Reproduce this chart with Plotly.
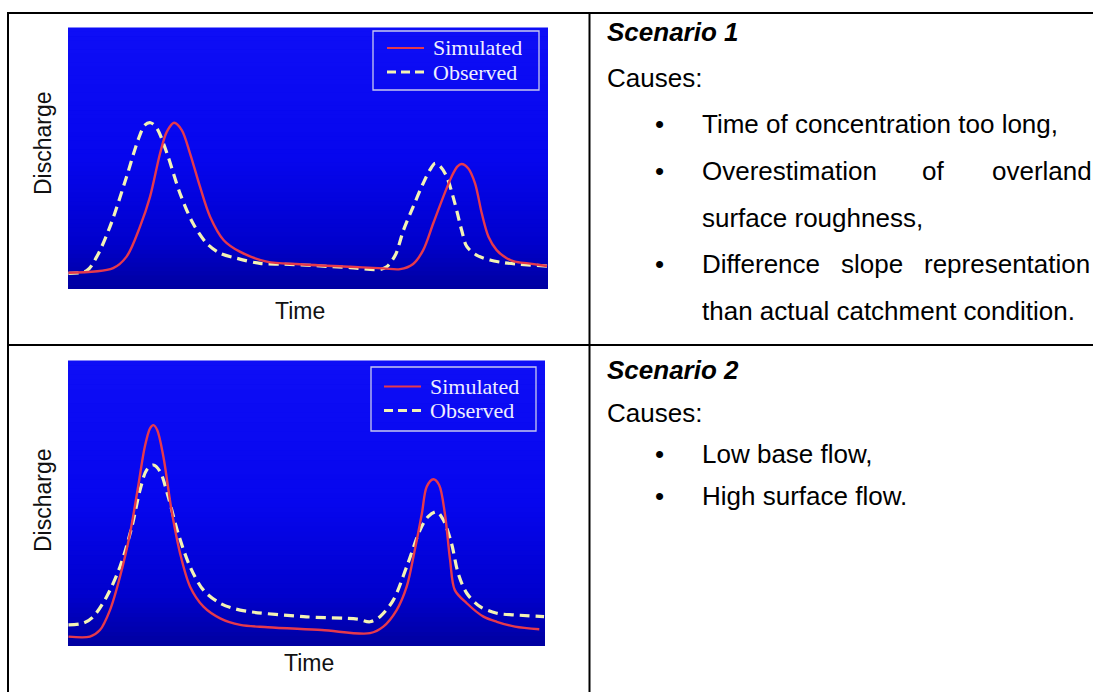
import plotly.graph_objects as go

W, H = 1093, 692

# ---- Scenario 1 hydrographs (time and discharge in relative units 0-100) ----
s1_sim_t = [0.1, 9.4, 12.2, 15.0, 17.1, 19.2, 20.6, 22.1, 23.7, 25.4, 27.5, 29.6, 32.4, 35.8,
            41.4, 48.3, 58.8, 65.7, 69.2, 71.9, 74.0, 76.1, 78.2, 79.9, 81.1, 82.0, 83.4,
            84.8, 86.2, 87.6, 89.3, 91.4, 93.1, 95.9, 99.8]
s1_sim_q = [6.2, 8.0, 12.4, 23.9, 35.4, 52.1, 60.3, 63.7, 60.9, 52.1, 39.2, 27.7, 18.8, 14.3,
            10.5, 9.5, 8.5, 7.9, 7.6, 9.6, 14.9, 25.2, 35.4, 43.0, 46.9, 47.9, 46.2,
            40.5, 29.0, 20.0, 14.9, 11.8, 10.5, 9.8, 8.8]

s1_obs_t = [0.1, 3.9, 6.0, 8.75, 12.2, 14.6, 16.0, 17.2, 18.5, 20.6, 23.3, 26.0, 28.9, 31.7,
            35.1, 40.0, 44.9, 51.8, 58.8, 65.0, 66.4, 68.2, 69.9, 71.9, 74.0, 75.4, 76.5,
            77.6, 78.9, 80.6, 82.0, 83.1, 85.1, 87.9, 90.7, 93.1, 99.8]
s1_obs_q = [6.0, 7.0, 12.4, 23.9, 43.0, 57.1, 62.8, 63.7, 61.6, 52.1, 36.8, 25.3, 17.5, 13.7,
            11.8, 9.8, 9.5, 8.9, 8.2, 7.5, 8.5, 13.0, 22.6, 31.5, 40.5, 45.6, 48.2,
            46.9, 43.0, 32.8, 22.6, 16.2, 13.0, 11.1, 10.1, 9.6, 8.8]

# ---- Scenario 2 hydrographs ----
s2_sim_t = [0.1, 4.6, 6.7, 8.8, 10.9, 13.0, 14.7, 16.1, 17.2, 17.9, 18.7, 20.0, 21.7, 23.5,
            25.6, 28.4, 31.9, 36.1, 41.9, 53.2, 63.3, 66.1, 68.9, 71.0, 72.7, 74.2, 75.2,
            76.6, 77.8, 79.0, 80.1, 81.1, 83.6, 87.1, 89.9, 93.7, 98.8]
s2_sim_q = [3.3, 3.3, 5.6, 12.6, 24.3, 39.5, 55.9, 69.9, 76.4, 77.5, 75.8, 66.4, 47.7, 32.5,
            20.8, 13.8, 9.7, 7.4, 6.6, 5.6, 4.5, 6.8, 12.6, 20.8, 33.7, 46.6, 55.9,
            58.5, 56.5, 46.6, 30.2, 19.6, 15.0, 10.3, 8.5, 6.8, 5.9]

s2_obs_t = [0.1, 3.2, 5.3, 8.1, 10.9, 13.4, 15.1, 16.5, 17.9, 19.3, 21.0, 23.1, 25.6, 28.4,
            31.9, 36.1, 49.4, 60.7, 63.3, 65.4, 68.2, 71.0, 73.8, 75.5, 77.3, 78.7, 80.4,
            81.8, 83.6, 86.4, 89.9, 93.7, 99.8]
s2_obs_q = [7.4, 8.0, 10.3, 17.3, 27.8, 41.9, 54.7, 61.8, 63.5, 61.2, 52.4, 39.5, 27.8, 19.6,
            15.0, 12.6, 10.3, 9.4, 8.5, 10.3, 16.1, 27.8, 40.7, 45.4, 47.1, 44.2, 36.0,
            25.5, 18.5, 13.8, 11.5, 10.9, 10.3]

series_names = ["Simulated", "Observed"]
axis_x_title = "Time"
axis_y_title = "Discharge"

scenario_titles = ["Scenario 1", "Scenario 2"]
causes_label = "Causes:"

SIM_COLOR = "#e6394c"
OBS_COLOR = "#f3f3b4"
TEXT_FONT = "Liberation Sans, Arial, sans-serif"
SERIF_FONT = "Liberation Serif, Times New Roman, serif"


def px_x(p):
    return p / W


def px_y(p):
    return 1 - p / H


# plot rectangles in pixels: (left, top, right, bottom)
panels = [
    dict(box=(68, 28, 548, 289), t_sim=s1_sim_t, q_sim=s1_sim_q, t_obs=s1_obs_t, q_obs=s1_obs_q,
         legend=(373, 31, 539, 90), leg_y=(48.0, 72.0), leg_line=(387, 424), leg_text_x=431,
         ylab=(43, 143), xlab=(300, 311)),
    dict(box=(68, 361, 545, 646), t_sim=s2_sim_t, q_sim=s2_sim_q, t_obs=s2_obs_t, q_obs=s2_obs_q,
         legend=(371, 367, 536, 431), leg_y=(386.5, 410.5), leg_line=(384, 421), leg_text_x=428,
         ylab=(43, 500), xlab=(309, 663)),
]

fig = go.Figure()
shapes = []
annotations = []


def grad_color(t):
    # vertical blue gradient, t = 0 at the top, 1 at the bottom
    stops = [(0.0, (14, 14, 246)), (0.5, (6, 6, 238)), (0.82, (0, 0, 205)), (1.0, (0, 0, 160))]
    for (t0, c0), (t1, c1) in zip(stops[:-1], stops[1:]):
        if t <= t1:
            f = (t - t0) / (t1 - t0)
            return "rgb(%d,%d,%d)" % tuple(round(a + (b - a) * f) for a, b in zip(c0, c1))
    return "rgb(0,0,160)"


for i, p in enumerate(panels, start=1):
    xa = "x" if i == 1 else "x%d" % i
    ya = "y" if i == 1 else "y%d" % i
    l, t, r, b = p["box"]
    fig.add_trace(go.Scatter(x=p["t_obs"], y=p["q_obs"], mode="lines", name=series_names[1],
                             line=dict(color=OBS_COLOR, width=3.2, dash="10px,6px",
                                       shape="spline", smoothing=0.9),
                             xaxis=xa, yaxis=ya, showlegend=False, hoverinfo="skip"))
    fig.add_trace(go.Scatter(x=p["t_sim"], y=p["q_sim"], mode="lines", name=series_names[0],
                             line=dict(color=SIM_COLOR, width=2.4, shape="spline", smoothing=0.9),
                             xaxis=xa, yaxis=ya, showlegend=False, hoverinfo="skip"))

    ax_kw = dict(range=[0, 100], showgrid=False, zeroline=False, showticklabels=False,
                 ticks="", showline=False, fixedrange=True)
    fig.update_layout(**{
        ("xaxis" if i == 1 else "xaxis%d" % i): dict(domain=[px_x(l), px_x(r)], anchor=ya, **ax_kw),
        ("yaxis" if i == 1 else "yaxis%d" % i): dict(domain=[px_y(b), px_y(t)], anchor=xa, **ax_kw),
    })

    # background gradient bands
    n = 60
    for k in range(n):
        y0 = 1 - k / n
        y1 = 1 - (k + 1) / n
        shapes.append(dict(type="rect", xref=xa + " domain", yref=ya + " domain",
                           x0=0, x1=1, y0=y1, y1=y0 + 0.002, layer="below",
                           line=dict(width=0), fillcolor=grad_color((k + 0.5) / n)))

    # legend box
    ll, lt, lr, lb = p["legend"]
    shapes.append(dict(type="rect", xref="paper", yref="paper",
                       x0=px_x(ll), x1=px_x(lr), y0=px_y(lb), y1=px_y(lt),
                       line=dict(color="#c8c8f0", width=1.3), fillcolor="rgba(0,0,0,0)"))
    x0s, x1s = p["leg_line"]
    for j, (yy, col, dash, wd) in enumerate([(p["leg_y"][0], SIM_COLOR, "solid", 2.2),
                                              (p["leg_y"][1], OBS_COLOR, "9px,5px", 3.2)]):
        shapes.append(dict(type="line", xref="paper", yref="paper",
                           x0=px_x(x0s), x1=px_x(x1s), y0=px_y(yy), y1=px_y(yy),
                           line=dict(color=col, width=wd, dash=dash)))
        annotations.append(dict(text=series_names[j], xref="paper", yref="paper",
                                x=px_x(p["leg_text_x"]), y=px_y(yy), xanchor="left",
                                yanchor="middle", showarrow=False, height=21, valign="middle",
                                font=dict(family=SERIF_FONT, size=22, color="#eeeeff")))

    # axis titles
    annotations.append(dict(text=axis_y_title, xref="paper", yref="paper",
                            x=px_x(p["ylab"][0]), y=px_y(p["ylab"][1]), textangle=-90,
                            xanchor="center", yanchor="middle", showarrow=False,
                            font=dict(family=TEXT_FONT, size=23, color="#111111")))
    annotations.append(dict(text=axis_x_title, xref="paper", yref="paper",
                            x=px_x(p["xlab"][0]), y=px_y(p["xlab"][1]),
                            xanchor="center", yanchor="middle", showarrow=False,
                            font=dict(family=TEXT_FONT, size=23, color="#111111")))


# ---- table rules ----
rule = dict(color="black", width=2)
for x0, y0, x1, y1 in [(8, 13, W, 13), (8, 345, W, 345), (8, 12, 8, H), (589.5, 12, 589.5, H)]:
    shapes.append(dict(type="line", xref="paper", yref="paper",
                       x0=px_x(x0), y0=px_y(y0), x1=px_x(x1), y1=px_y(y1), line=rule))


# ---- right-hand text column ----
def text(s, x, y, anchor="left", size=26):
    annotations.append(dict(text=s, xref="paper", yref="paper", x=px_x(x), y=px_y(y),
                            xanchor=anchor, yanchor="middle", showarrow=False,
                            font=dict(family=TEXT_FONT, size=size, color="black")))


TX = 605
BX = 659
IX = 700

row1 = [32, 78, 124.5, 171, 217.5, 264, 310.5]
text("<b><i>%s</i></b>" % scenario_titles[0], TX, row1[0])
text(causes_label, TX, row1[1])
text("•", BX, row1[2], anchor="center")
text("Time of concentration too long,", IX, row1[2])
text("•", BX, row1[3], anchor="center")
text("Overestimation", IX, row1[3])
text("of", 920, row1[3])
text("overland", 990, row1[3])
text("surface roughness,", IX, row1[4])
text("•", BX, row1[5], anchor="center")
text("Difference", IX, row1[5])
text("slope", 839, row1[5])
text("representation", 922, row1[5])
text("than actual catchment condition.", IX, row1[6])

row2 = [370, 413, 454, 496]
text("<b><i>%s</i></b>" % scenario_titles[1], TX, row2[0])
text(causes_label, TX, row2[1])
text("•", BX, row2[2], anchor="center")
text("Low base flow,", IX, row2[2])
text("•", BX, row2[3], anchor="center")
text("High surface flow.", IX, row2[3])

fig.update_layout(width=W, height=H, margin=dict(l=0, r=0, t=0, b=0),
                  paper_bgcolor="white", plot_bgcolor="rgb(6,6,238)",
                  shapes=shapes, annotations=annotations, showlegend=False)

fig.write_html("out.html")
